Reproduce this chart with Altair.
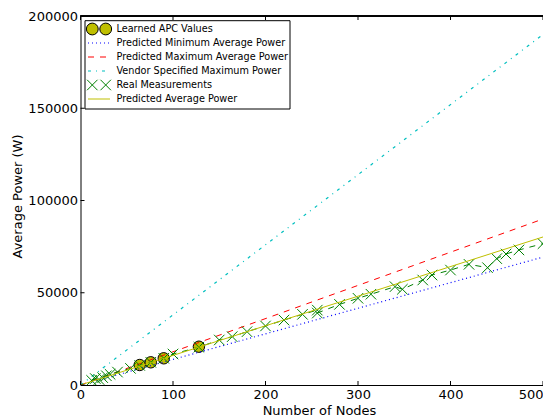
import altair as alt
import pandas as pd

# ---------------- data ----------------
meas_nodes = [12, 16, 20, 24, 28, 32, 40, 54, 64, 76, 90, 100, 128, 150, 164, 180,
              200, 220, 240, 256, 256, 280, 300, 314, 340, 348, 370, 380, 400, 420,
              440, 450, 460, 474, 500, 512]
meas_power = [2500, 3500, 3000, 4000, 5000, 5800, 7000, 9000, 10600, 12300, 14500,
              16800, 20500, 24400, 26200, 28900, 32000, 35200, 38300, 40600, 39000,
              43700, 47000, 49200, 53300, 51900, 56900, 59600, 62300, 65400, 63600,
              68500, 71000, 73200, 76600, 78500]

apc_nodes = [64, 76, 90, 128]
apc_power = [10840, 12300, 14470, 20760]

line_nodes = [0, 508.5]
pred_min = [0, 70500]
pred_max = [0, 91500]
vendor_max = [0, 193200]
pred_avg = [0, 81600]

x_ticks = [0, 100, 200, 300, 400, 500]
y_ticks = [0, 50000, 100000, 150000, 200000]

legend_labels = ["Learned APC Values", "Predicted Minimum Average Power",
                 "Predicted Maximum Average Power", "Vendor Specified Maximum Power",
                 "Real Measurements", "Predicted Average Power"]

# ---------------- layout ----------------
W = 462.5
H = 369
FONT = "DejaVu Sans"
XMAX = 500
X_SHAPE = "M-1,-1L1,1M-1,1L1,-1"

xs = alt.Scale(domain=[0, XMAX], nice=False, zero=False)
ys = alt.Scale(domain=[0, 200000], nice=False)

X = alt.X("n:Q", scale=xs,
          axis=alt.Axis(values=x_ticks, title="Number of Nodes", grid=False,
                        tickSize=0, labelPadding=3, labelFlush=False,
                        labelAlign={"condition": {"test": "datum.value == 500",
                                                  "value": "right"},
                                    "value": "center"},
                        labelFontSize=13, titleFontSize=13,
                        titleX=238.5, titleY=29, titleBaseline="alphabetic",
                        titleAlign="center",
                        labelFont=FONT, titleFont=FONT, titleFontWeight="normal",
                        domainColor="black", labelColor="black", titleColor="black",
                        labelOverlap=False, format="d"))
Y = alt.Y("p:Q", scale=ys,
          axis=alt.Axis(values=y_ticks, title="Average Power (W)", grid=False,
                        tickSize=0, labelPadding=3, labelFontSize=13,
                        titleFontSize=13, titleX=-59.5, titleY=180,
                        titleAngle=270, titleBaseline="alphabetic",
                        titleAlign="center", labelFont=FONT,
                        titleFont=FONT, titleFontWeight="normal",
                        domainColor="black", labelColor="black", titleColor="black",
                        format="d"))


def line_df(vals):
    return pd.DataFrame({"n": line_nodes, "p": vals})


meas_df = pd.DataFrame({"n": meas_nodes, "p": meas_power})
apc_df = pd.DataFrame({"n": apc_nodes, "p": apc_power})

apc_layer = alt.Chart(apc_df).mark_point(
    shape="circle", filled=True, fill="#bfbf00", stroke="black", strokeWidth=1,
    size=130, opacity=1).encode(x=X, y=Y)

min_layer = alt.Chart(line_df(pred_min)).mark_line(
    color="blue", strokeDash=[1, 3], strokeWidth=1.2, clip=True).encode(x=X, y=Y)
max_layer = alt.Chart(line_df(pred_max)).mark_line(
    color="red", strokeDash=[6, 6], strokeWidth=1, clip=True).encode(x=X, y=Y)
vendor_layer = alt.Chart(line_df(vendor_max)).mark_line(
    color="#00bfbf", strokeDash=[3, 5, 1, 5], strokeWidth=1.2, clip=True).encode(x=X, y=Y)

meas_line = alt.Chart(meas_df).mark_line(
    color="#008000", strokeDash=[6, 6], strokeWidth=1, clip=True).encode(x=X, y=Y)
meas_pts = alt.Chart(meas_df).mark_point(
    shape=X_SHAPE, stroke="#008000", strokeWidth=1, size=110, opacity=1,
    clip=True).encode(x=X, y=Y)

avg_layer = alt.Chart(line_df(pred_avg)).mark_line(
    color="#bfbf00", strokeWidth=1, clip=True).encode(x=X, y=Y)

# frame: top line and inward ticks
tick_x_df = pd.DataFrame({"n": x_ticks})
tick_y_df = pd.DataFrame({"p": y_ticks})

top_line = alt.Chart(tick_x_df).mark_rule(color="black", strokeWidth=1).encode(
    x=alt.value(0), x2=alt.value(W + 5), y=alt.value(0))
bot_ticks = alt.Chart(tick_x_df).mark_rule(color="black", strokeWidth=1).encode(
    x=X, y=alt.value(H), y2=alt.value(H - 4))
top_ticks = alt.Chart(tick_x_df).mark_rule(color="black", strokeWidth=1).encode(
    x=X, y=alt.value(0), y2=alt.value(4))
left_ticks = alt.Chart(tick_y_df).mark_rule(color="black", strokeWidth=1).encode(
    y=Y, x=alt.value(0), x2=alt.value(4))

# ---------------- legend (drawn manually) ----------------
LX0, LY0 = 4.5, 4.7
ROW0, ROWH = 13, 14
TXT_X = 36
SYM_A, SYM_B = 11.8, 25.2
SEG_A, SEG_B = 7.5, 29.5

leg_df = pd.DataFrame({"label": legend_labels, "i": list(range(len(legend_labels)))})
PY = alt.Y("py:Q", scale=None, axis=None)


def leg(i):
    return alt.Chart(leg_df).transform_filter(f"datum.i == {i}").transform_calculate(
        py=f"{ROW0} + {ROWH} * datum.i")


leg_box = alt.Chart(leg_df.head(1)).mark_rect(
    fill="white", stroke="black", strokeWidth=1).encode(
    x=alt.value(LX0), x2=alt.value(209.5), y=alt.value(LY0), y2=alt.value(93))

leg_text = alt.Chart(leg_df).transform_calculate(
    py=f"{ROW0} + {ROWH} * datum.i").mark_text(
    align="left", baseline="middle", font=FONT, fontSize=9.7, color="black").encode(
    x=alt.value(TXT_X), y=PY, text="label:N")

leg_layers = [leg_box, leg_text]
for sx in (SYM_A, SYM_B):
    leg_layers.append(leg(0).mark_point(
        shape="circle", filled=True, fill="#bfbf00", stroke="black", strokeWidth=1,
        size=140, opacity=1).encode(x=alt.value(sx), y=PY))
    leg_layers.append(leg(4).mark_point(
        shape=X_SHAPE, stroke="#008000", strokeWidth=1, size=110, opacity=1).encode(
        x=alt.value(sx), y=PY))

for i, col, dash, sw in [(1, "blue", [1, 3], 1.2), (2, "red", [6, 6], 1),
                         (3, "#00bfbf", [3, 5, 1, 5], 1.2), (5, "#bfbf00", None, 1)]:
    kw = dict(color=col, strokeWidth=sw)
    if dash:
        kw["strokeDash"] = dash
    leg_layers.append(leg(i).mark_rule(**kw).encode(
        x=alt.value(SEG_A), x2=alt.value(SEG_B), y=PY))

chart = alt.layer(
    apc_layer, min_layer, max_layer, vendor_layer, meas_line, meas_pts, avg_layer,
    top_line, bot_ticks, top_ticks, left_ticks, *leg_layers
).properties(
    width=W, height=H,
    padding={"left": 72.5, "top": 8, "right": 0, "bottom": 32},
    autosize=alt.AutoSizeParams(type="none"),
    background="white",
).configure_view(stroke=None)

chart.save("out.html", embed_options={"renderer": "svg", "actions": False})
